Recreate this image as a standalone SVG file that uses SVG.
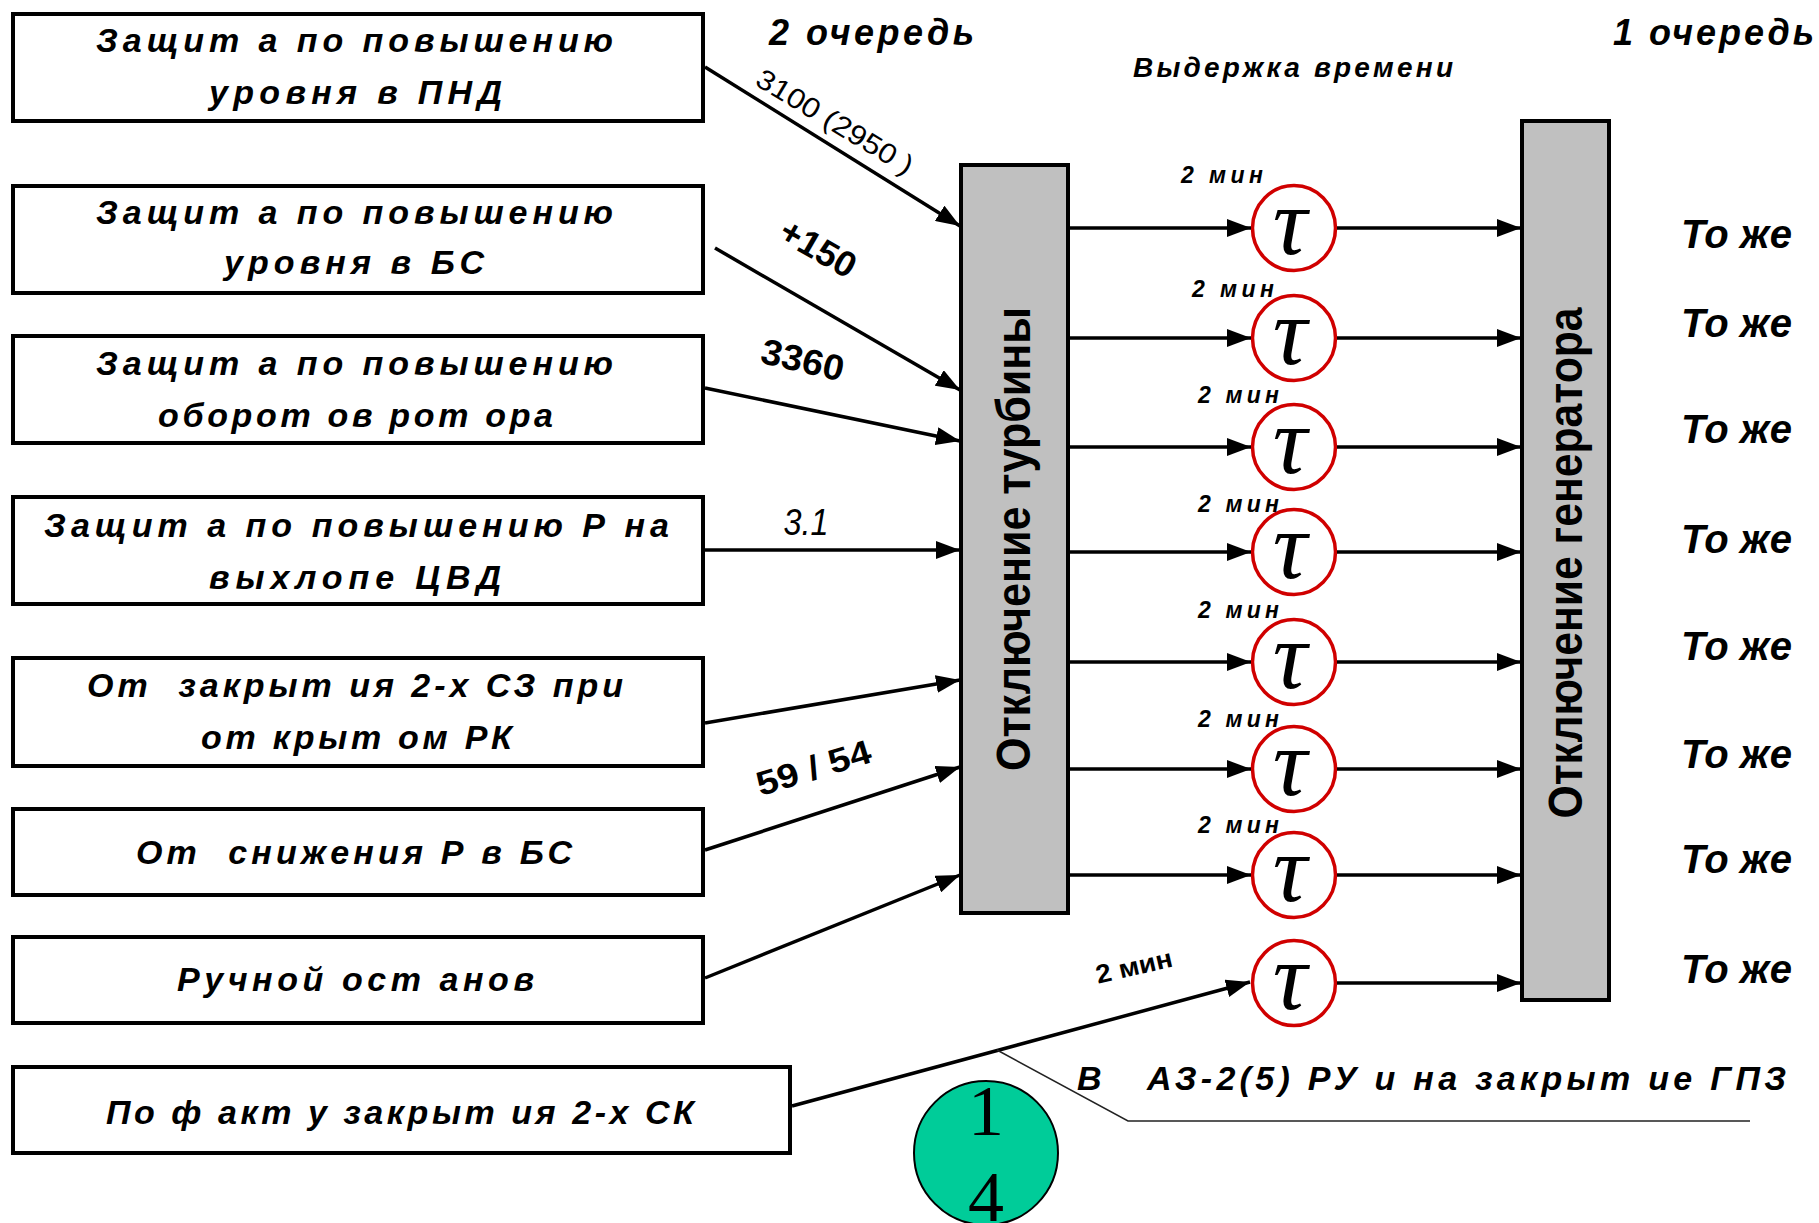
<svg xmlns="http://www.w3.org/2000/svg" width="1819" height="1223" viewBox="0 0 1819 1223">
<style>
.box{fill:#fff;stroke:#000;stroke-width:4}
.bar{fill:#c0c0c0;stroke:#000;stroke-width:4}
.bt{font-family:'Liberation Sans Narrow','Liberation Sans',Arial,sans-serif;font-weight:bold;font-style:italic;font-size:34px;fill:#000;white-space:pre}
.hd{font-family:'Liberation Sans Narrow','Liberation Sans',Arial,sans-serif;font-weight:bold;font-style:italic;fill:#000;white-space:pre}
.vt{font-family:'Liberation Sans',Arial,sans-serif;font-weight:bold;font-size:48px;fill:#000;text-anchor:middle}
.lbl{font-family:'Liberation Sans Narrow','Liberation Sans',Arial,sans-serif;fill:#000;text-anchor:middle}
.mn{font-family:'Liberation Sans Narrow','Liberation Sans',Arial,sans-serif;font-weight:bold;font-style:italic;font-size:23px;fill:#000;white-space:pre}
.tc{fill:#fff;stroke:#d00000;stroke-width:3.5}
.tau{font-family:'Liberation Serif','Times New Roman',serif;font-style:italic;font-size:96px;fill:#000;text-anchor:middle}
.ln{fill:none;stroke:#000;stroke-width:3.5}
</style>
<defs>
<marker id="ah" viewBox="0 0 24 18" refX="24" refY="9" markerWidth="24" markerHeight="18" markerUnits="userSpaceOnUse" orient="auto">
<path d="M0,0 L24,9 L0,18 z" fill="#000"/>
</marker>
</defs>

<g id="headers">
<text class="hd" x="769" y="45" font-size="36" textLength="205" lengthAdjust="spacing">2 очередь</text>
<text class="hd" x="1613" y="45" font-size="36" textLength="201" lengthAdjust="spacing">1 очередь</text>
<text class="hd" x="1133" y="77" font-size="28" textLength="320" lengthAdjust="spacing">Выдержка времени</text>
</g>

<g id="node-b1">
<rect class="box" x="13" y="14" width="690" height="107"/>
<text class="bt" x="96" y="52" textLength="517" lengthAdjust="spacing">Защит а по повышению</text>
<text class="bt" x="209" y="104" textLength="293" lengthAdjust="spacing">уровня в ПНД</text>
</g>
<g id="node-b2">
<rect class="box" x="13" y="186" width="690" height="107"/>
<text class="bt" x="96" y="224" textLength="517" lengthAdjust="spacing">Защит а по повышению</text>
<text class="bt" x="224" y="274" textLength="260" lengthAdjust="spacing">уровня в БС</text>
</g>
<g id="node-b3">
<rect class="box" x="13" y="336" width="690" height="107"/>
<text class="bt" x="96" y="375" textLength="517" lengthAdjust="spacing">Защит а по повышению</text>
<text class="bt" x="158" y="427" textLength="395" lengthAdjust="spacing">оборот ов рот ора</text>
</g>
<g id="node-b4">
<rect class="box" x="13" y="497" width="690" height="107"/>
<text class="bt" x="44" y="537" textLength="625" lengthAdjust="spacing">Защит а по повышению Р на</text>
<text class="bt" x="209" y="589" textLength="292" lengthAdjust="spacing">выхлопе ЦВД</text>
</g>
<g id="node-b5">
<rect class="box" x="13" y="658" width="690" height="108"/>
<text class="bt" x="87" y="697" textLength="536" lengthAdjust="spacing">От  закрыт ия 2-х СЗ при</text>
<text class="bt" x="201" y="749" textLength="311" lengthAdjust="spacing">от крыт ом РК</text>
</g>
<g id="node-b6">
<rect class="box" x="13" y="809" width="690" height="86"/>
<text class="bt" x="136" y="864" textLength="436" lengthAdjust="spacing">От  снижения Р в БС</text>
</g>
<g id="node-b7">
<rect class="box" x="13" y="937" width="690" height="86"/>
<text class="bt" x="177" y="991" textLength="357" lengthAdjust="spacing">Ручной ост анов</text>
</g>
<g id="node-b8">
<rect class="box" x="13" y="1067" width="777" height="86"/>
<text class="bt" x="106" y="1124" textLength="588" lengthAdjust="spacing">По ф акт у закрыт ия 2-х СК</text>
</g>

<g id="node-turbine">
<rect class="bar" x="961" y="165" width="107" height="748"/>
<text class="vt" transform="translate(1030,539) rotate(-90)" textLength="464" lengthAdjust="spacingAndGlyphs">Отключение турбины</text>
</g>
<g id="node-generator">
<rect class="bar" x="1522" y="121" width="87" height="879"/>
<text class="vt" transform="translate(1582,563) rotate(-90)" textLength="511" lengthAdjust="spacingAndGlyphs">Отключение генератора</text>
</g>

<g id="node-t1"><ellipse class="tc" cx="1294" cy="228" rx="41.5" ry="42.5"/><text class="tau" x="1290" y="254">τ</text></g>
<g id="node-t2"><ellipse class="tc" cx="1294" cy="338" rx="41.5" ry="42.5"/><text class="tau" x="1290" y="364">τ</text></g>
<g id="node-t3"><ellipse class="tc" cx="1294" cy="447" rx="41.5" ry="42.5"/><text class="tau" x="1290" y="473">τ</text></g>
<g id="node-t4"><ellipse class="tc" cx="1294" cy="552" rx="41.5" ry="42.5"/><text class="tau" x="1290" y="578">τ</text></g>
<g id="node-t5"><ellipse class="tc" cx="1294" cy="662" rx="41.5" ry="42.5"/><text class="tau" x="1290" y="688">τ</text></g>
<g id="node-t6"><ellipse class="tc" cx="1294" cy="769" rx="41.5" ry="42.5"/><text class="tau" x="1290" y="795">τ</text></g>
<g id="node-t7"><ellipse class="tc" cx="1294" cy="875" rx="41.5" ry="42.5"/><text class="tau" x="1290" y="901">τ</text></g>
<g id="node-t8"><ellipse class="tc" cx="1294" cy="983" rx="41.5" ry="42.5"/><text class="tau" x="1290" y="1009">τ</text></g>

<g id="connectors">
<line class="ln" x1="705" y1="67" x2="960" y2="226" marker-end="url(#ah)"/>
<line class="ln" x1="715" y1="248" x2="960" y2="390" marker-end="url(#ah)"/>
<line class="ln" x1="705" y1="388" x2="960" y2="441" marker-end="url(#ah)"/>
<line class="ln" x1="705" y1="550" x2="960" y2="550" marker-end="url(#ah)"/>
<line class="ln" x1="705" y1="723" x2="960" y2="680" marker-end="url(#ah)"/>
<line class="ln" x1="705" y1="850" x2="960" y2="767" marker-end="url(#ah)"/>
<line class="ln" x1="705" y1="978" x2="960" y2="875" marker-end="url(#ah)"/>
<line class="ln" x1="792" y1="1106" x2="1250" y2="982" marker-end="url(#ah)"/>

<line class="ln" x1="1070" y1="228" x2="1251" y2="228" marker-end="url(#ah)"/>
<line class="ln" x1="1070" y1="338" x2="1251" y2="338" marker-end="url(#ah)"/>
<line class="ln" x1="1070" y1="447" x2="1251" y2="447" marker-end="url(#ah)"/>
<line class="ln" x1="1070" y1="552" x2="1251" y2="552" marker-end="url(#ah)"/>
<line class="ln" x1="1070" y1="662" x2="1251" y2="662" marker-end="url(#ah)"/>
<line class="ln" x1="1070" y1="769" x2="1251" y2="769" marker-end="url(#ah)"/>
<line class="ln" x1="1070" y1="875" x2="1251" y2="875" marker-end="url(#ah)"/>

<line class="ln" x1="1337" y1="228" x2="1521" y2="228" marker-end="url(#ah)"/>
<line class="ln" x1="1337" y1="338" x2="1521" y2="338" marker-end="url(#ah)"/>
<line class="ln" x1="1337" y1="447" x2="1521" y2="447" marker-end="url(#ah)"/>
<line class="ln" x1="1337" y1="552" x2="1521" y2="552" marker-end="url(#ah)"/>
<line class="ln" x1="1337" y1="662" x2="1521" y2="662" marker-end="url(#ah)"/>
<line class="ln" x1="1337" y1="769" x2="1521" y2="769" marker-end="url(#ah)"/>
<line class="ln" x1="1337" y1="875" x2="1521" y2="875" marker-end="url(#ah)"/>
<line class="ln" x1="1337" y1="983" x2="1521" y2="983" marker-end="url(#ah)"/>

<polyline points="997,1050 1128,1121 1750,1121" fill="none" stroke="#222" stroke-width="1.5"/>

<text class="lbl" font-size="28" transform="translate(830,130) rotate(31)" textLength="178" lengthAdjust="spacingAndGlyphs">3100 (2950 )</text>
<text class="lbl" font-size="36" font-weight="bold" transform="translate(812,259) rotate(30)" textLength="82" lengthAdjust="spacingAndGlyphs">+150</text>
<text class="lbl" font-size="36" font-weight="bold" transform="translate(800,372) rotate(13)" textLength="84" lengthAdjust="spacingAndGlyphs">3360</text>
<text class="lbl" font-size="36" font-style="italic" x="806" y="535" textLength="45" lengthAdjust="spacingAndGlyphs">3.1</text>
<text class="lbl" font-size="34" font-weight="bold" transform="translate(817,779) rotate(-17)" textLength="118" lengthAdjust="spacingAndGlyphs">59 / 54</text>
<text class="lbl" font-size="26" font-weight="bold" transform="translate(1136,975) rotate(-13)" textLength="78" lengthAdjust="spacingAndGlyphs">2 мин</text>

<text class="mn" x="1181" y="183" textLength="82" lengthAdjust="spacing">2 мин</text>
<text class="mn" x="1192" y="297" textLength="82" lengthAdjust="spacing">2 мин</text>
<text class="mn" x="1198" y="403" textLength="81" lengthAdjust="spacing">2 мин</text>
<text class="mn" x="1198" y="512" textLength="81" lengthAdjust="spacing">2 мин</text>
<text class="mn" x="1198" y="618" textLength="81" lengthAdjust="spacing">2 мин</text>
<text class="mn" x="1198" y="727" textLength="81" lengthAdjust="spacing">2 мин</text>
<text class="mn" x="1198" y="833" textLength="81" lengthAdjust="spacing">2 мин</text>
</g>

<g id="notes">
<text class="hd" font-size="40" x="1681" y="248" textLength="111" lengthAdjust="spacing">То же</text>
<text class="hd" font-size="40" x="1681" y="337" textLength="111" lengthAdjust="spacing">То же</text>
<text class="hd" font-size="40" x="1681" y="443" textLength="111" lengthAdjust="spacing">То же</text>
<text class="hd" font-size="40" x="1681" y="553" textLength="111" lengthAdjust="spacing">То же</text>
<text class="hd" font-size="40" x="1681" y="660" textLength="111" lengthAdjust="spacing">То же</text>
<text class="hd" font-size="40" x="1681" y="768" textLength="111" lengthAdjust="spacing">То же</text>
<text class="hd" font-size="40" x="1681" y="873" textLength="111" lengthAdjust="spacing">То же</text>
<text class="hd" font-size="40" x="1681" y="983" textLength="111" lengthAdjust="spacing">То же</text>
<text class="hd" font-size="34" x="1077" y="1090" textLength="709" lengthAdjust="spacing">В   АЗ-2(5) РУ и на закрыт ие ГПЗ</text>
</g>

<g id="page-number">
<circle cx="986" cy="1153" r="72" fill="#00cc99" stroke="#000" stroke-width="2"/>
<text x="986" y="1135" font-family="'Liberation Serif','Times New Roman',serif" font-size="72" text-anchor="middle" fill="#000">1</text>
<text x="986" y="1221" font-family="'Liberation Serif','Times New Roman',serif" font-size="72" text-anchor="middle" fill="#000">4</text>
</g>
</svg>
